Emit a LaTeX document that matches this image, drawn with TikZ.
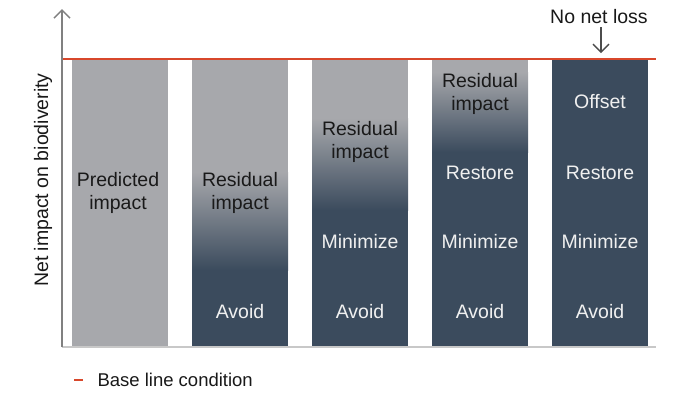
\documentclass[tikz,border=0pt]{standalone}
\usepackage{fontspec}
\setmainfont{Liberation Sans}
\usetikzlibrary{arrows.meta}
\begin{document}
\begin{tikzpicture}[x=1pt, y=-1pt]
    \def\barTop{60}
    \def\barBottom{346}
    \def\barWidth{96}

    \definecolor{impactColour}{HTML}{A7A8AC}
    \definecolor{measureColour}{HTML}{3B4B5D}
    \definecolor{baseColour}{HTML}{D8472B}
    \definecolor{axisColour}{HTML}{808080}
    \definecolor{floorColour}{HTML}{C8C8C8}

    \tikzset{
        label/.style={font=\fontsize{19.5}{23}\selectfont, align=center, text=black!90},
        measure/.style={label, text=white!94!black},
        barb/.style={-{Straight Barb[length=8pt, width=16pt]}}
    }

    \useasboundingbox (0,0) rectangle (673,392);

    % Draw bars
    \fill[impactColour] (72,\barTop) rectangle ++(\barWidth,\barBottom-\barTop);
    \foreach \x/\fadeTop/\fadeBottom in {192/172/270, 312/118/210, 432/72/152} {
        \fill[impactColour] (\x,\barTop) rectangle (\x+\barWidth,\fadeTop);
        \shade[top color=impactColour, bottom color=measureColour] (\x,\fadeTop) rectangle (\x+\barWidth,\fadeBottom);
        \fill[measureColour] (\x,\fadeBottom) rectangle (\x+\barWidth,\barBottom);
    }
    \fill[measureColour] (552,\barTop) rectangle ++(\barWidth,\barBottom-\barTop);

    % Draw axes
    \coordinate (origin) at (62,347);
    \coordinate (yTop) at (62,9);
    \coordinate (xEnd) at (656,347);
    \draw[floorColour, line width=1.5pt] (origin) -- (xEnd);
    \draw[axisColour, line width=1.5pt, barb] (origin) -- (yTop);
    \node[label, rotate=90] (yLabel) at (43,180) {Net impact on biodiverity};

    % Base line
    \coordinate (baseStart) at (63,59);
    \coordinate (baseEnd) at (656,59);
    \draw[baseColour, line width=2.5pt] (baseStart) -- (baseEnd);

    % Label bars
    \node[label] (predicted) at (118,193) {Predicted\\impact};
    \node[label] (residualA) at (240,193) {Residual\\impact};
    \node[label] (residualB) at (360,142) {Residual\\impact};
    \node[label] (residualC) at (480,94) {Residual\\impact};
    \node[measure] (offset) at (600,102) {Offset};
    \foreach \x [count=\i] in {480,600}
        \node[measure] (restore\i) at (\x,173) {Restore};
    \foreach \x [count=\i] in {360,480,600}
        \node[measure] (minimize\i) at (\x,242) {Minimize};
    \foreach \x [count=\i] in {240,360,480,600}
        \node[measure] (avoid\i) at (\x,312) {Avoid};

    % No net loss
    \node[label] (noLoss) at (599,17) {No net loss};
    \coordinate (lossTail) at (601,27);
    \coordinate (lossTip) at (601,53);
    \draw[black!70, line width=1.3pt, barb] (lossTail) -- (lossTip);

    % Legend
    \draw[baseColour, line width=2.5pt] (74,380) -- (83,380);
    \node[label, font=\fontsize{18.5}{22}\selectfont, anchor=west] (legend) at (94,380) {Base line condition};

\end{tikzpicture}
\end{document}
